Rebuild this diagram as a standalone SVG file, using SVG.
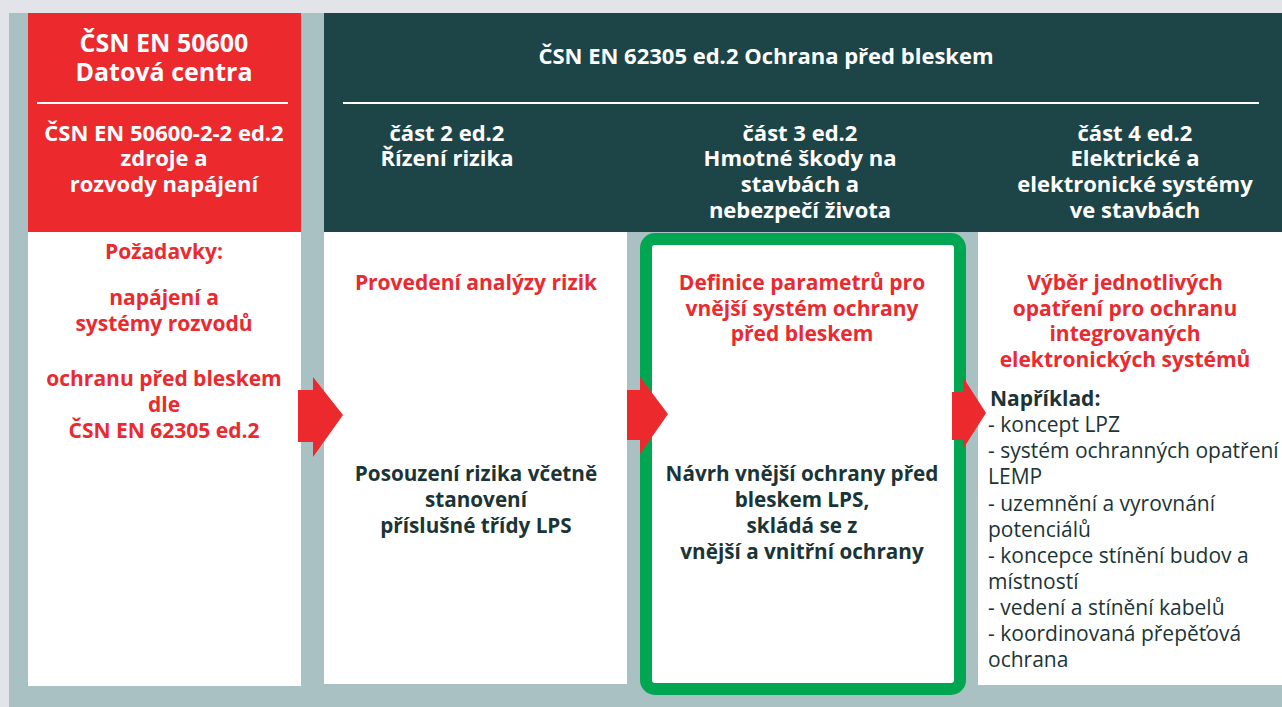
<svg xmlns="http://www.w3.org/2000/svg" width="1282" height="707" viewBox="0 0 1282 707">
<style>
text{font-family:"Open Sans","Noto Sans","DejaVu Sans",sans-serif;text-anchor:middle}
.hw{fill:#fff;font-weight:bold;font-size:22px}
.hb{fill:#fff;font-weight:bold;font-size:25px}
.rd{fill:#ea2a2f;font-weight:bold;font-size:21px}
.dk{fill:#1b3436;font-weight:bold;font-size:20.7px}
.ls{fill:#1b3436;font-size:21px;text-anchor:start}
.arrow{fill:#ec2a2e}
</style>
<rect x="0" y="0" width="1282" height="707" fill="#e3e4e9"/>
<rect x="9" y="13" width="1273" height="694" fill="#aac1c4"/>
<g id="col1">
<rect x="28" y="13" width="273" height="219" fill="#ec2a2e"/>
<line x1="37" y1="103" x2="288" y2="103" stroke="#fff" stroke-width="2"/>
<text class="hb" x="164" y="52">ČSN EN 50600</text>
<text class="hb" x="164" y="81">Datová centra</text>
<text class="hw" x="164" y="141">ČSN EN 50600-2-2 ed.2</text>
<text class="hw" x="164" y="166">zdroje a</text>
<text class="hw" x="164" y="192">rozvody napájení</text>
<rect x="28" y="232" width="273" height="454" fill="#fff"/>
<text class="rd" x="164" y="259">Požadavky:</text>
<text class="rd" x="164" y="305">napájení a</text>
<text class="rd" x="164" y="331">systémy rozvodů</text>
<text class="rd" x="164" y="386">ochranu před bleskem</text>
<text class="rd" x="164" y="412">dle</text>
<text class="rd" x="164" y="438">ČSN EN 62305 ed.2</text>
</g>
<g id="header">
<rect x="324" y="13" width="958" height="219" fill="#1d4548"/>
<line x1="343" y1="103" x2="1259" y2="103" stroke="#fff" stroke-width="2"/>
<text class="hw" x="766" y="64">ČSN EN 62305 ed.2 Ochrana před bleskem</text>
</g>
<g id="col2">
<text class="hw" x="447" y="141">část 2 ed.2</text>
<text class="hw" x="447" y="166">Řízení rizika</text>
<rect x="324" y="232" width="303" height="452" fill="#fff"/>
<text class="rd" x="476" y="290">Provedení analýzy rizik</text>
<text class="dk" x="476" y="481">Posouzení rizika včetně</text>
<text class="dk" x="476" y="507">stanovení</text>
<text class="dk" x="476" y="533">příslušné třídy LPS</text>
</g>
<g id="col3">
<text class="hw" x="800" y="141">část 3 ed.2</text>
<text class="hw" x="800" y="166">Hmotné škody na</text>
<text class="hw" x="800" y="192">stavbách a</text>
<text class="hw" x="800" y="218">nebezpečí života</text>
<rect x="646" y="239" width="314" height="450" rx="9" fill="#fff" stroke="#00a651" stroke-width="12"/>
<text class="rd" x="802" y="290">Definice parametrů pro</text>
<text class="rd" x="802" y="316">vnější systém ochrany</text>
<text class="rd" x="802" y="341">před bleskem</text>
<text class="dk" x="802" y="481">Návrh vnější ochrany před</text>
<text class="dk" x="802" y="507">bleskem LPS,</text>
<text class="dk" x="802" y="533">skládá se z</text>
<text class="dk" x="802" y="559">vnější a vnitřní ochrany</text>
</g>
<g id="col4">
<text class="hw" x="1135" y="141">část 4 ed.2</text>
<text class="hw" x="1135" y="166">Elektrické a</text>
<text class="hw" x="1135" y="192">elektronické systémy</text>
<text class="hw" x="1135" y="218">ve stavbách</text>
<rect x="978" y="232" width="304" height="453" fill="#fff"/>
<text class="rd" x="1125" y="290">Výběr jednotlivých</text>
<text class="rd" x="1125" y="316">opatření pro ochranu</text>
<text class="rd" x="1125" y="341">integrovaných</text>
<text class="rd" x="1125" y="367">elektronických systémů</text>
<text class="ls" x="990" y="406" font-weight="bold">Například:</text>
<text class="ls" x="988" y="432">- koncept LPZ</text>
<text class="ls" x="988" y="458">- systém ochranných opatření</text>
<text class="ls" x="988" y="484">LEMP</text>
<text class="ls" x="988" y="511">- uzemnění a vyrovnání</text>
<text class="ls" x="988" y="537">potenciálů</text>
<text class="ls" x="988" y="563">- koncepce stínění budov a</text>
<text class="ls" x="988" y="589">místností</text>
<text class="ls" x="988" y="615">- vedení a stínění kabelů</text>
<text class="ls" x="988" y="641">- koordinovaná přepěťová</text>
<text class="ls" x="988" y="667">ochrana</text>
</g>
<g id="connectors">
<polygon class="arrow" points="298,390 313,390 313,377 343,415 313,457 313,442 298,442"/>
<polygon class="arrow" points="627,390 640,390 640,377 668,414 640,454 640,440 627,440"/>
<polygon class="arrow" points="952,392 963,392 963,377 986,413 963,449 963,440 952,440"/>
</g>
</svg>
